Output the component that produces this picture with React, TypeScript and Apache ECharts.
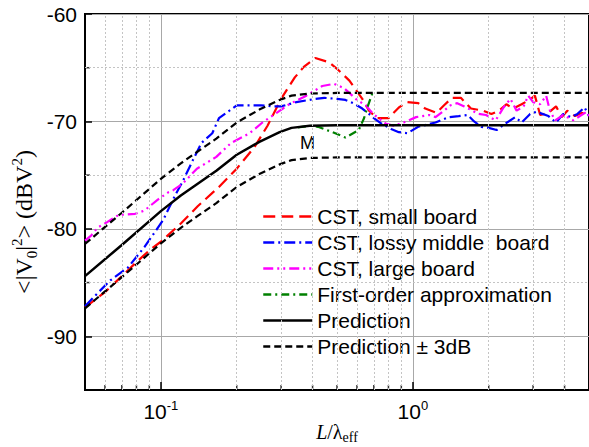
import React, { useEffect, useRef } from "react";
import * as echarts from "echarts";

const seriesNames = [
  "CST, small board",
  "CST, lossy middle  board",
  "CST, large board",
  "First-order approximation",
  "Prediction",
  "Prediction ± 3dB",
];

const smallBoard = [
  [0.05, -87.3], [0.06, -85.9], [0.07, -84.4], [0.08, -83.1], [0.09, -82.0], [0.1, -81.2],
  [0.12, -79.5], [0.14, -77.9], [0.17, -76.1], [0.2, -74.4], [0.235, -72.4], [0.265, -70.4],
  [0.3, -67.9], [0.34, -65.9], [0.37, -64.9], [0.41, -64.1], [0.465, -64.5], [0.5, -65.1],
  [0.56, -66.2], [0.63, -67.9], [0.67, -69.0], [0.72, -69.7], [0.8, -69.7], [0.88, -68.7],
  [0.95, -68.2], [1.05, -68.3], [1.12, -68.8], [1.24, -69.2], [1.33, -68.5], [1.43, -67.8],
  [1.55, -67.8], [1.7, -68.8], [1.9, -69.0], [2.05, -69.3], [2.2, -69.0], [2.35, -68.4],
  [2.5, -68.8], [2.7, -68.4], [2.9, -68.0], [3.05, -67.6], [3.2, -69.4], [3.45, -69.2],
  [3.7, -68.6], [3.9, -69.6], [4.1, -69.0], [4.4, -69.5], [4.7, -69.2], [5.0, -69.6],
];

const lossyMiddleBoard = [
  [0.05, -87.2], [0.056, -86.0], [0.063, -84.8], [0.074, -83.6], [0.086, -81.7], [0.096, -80.1],
  [0.102, -79.2], [0.108, -78.0], [0.115, -76.7], [0.122, -75.6], [0.134, -73.6], [0.145, -72.0],
  [0.16, -71.1], [0.17, -69.7], [0.187, -69.0], [0.2, -68.5], [0.25, -68.5], [0.28, -68.6],
  [0.3, -68.6], [0.345, -68.2], [0.41, -67.9], [0.445, -67.8], [0.5, -67.9], [0.54, -68.0],
  [0.58, -68.3], [0.63, -68.8], [0.67, -69.3], [0.7, -69.7], [0.75, -70.2], [0.82, -70.7],
  [0.88, -71.0], [0.95, -71.1], [1.05, -70.5], [1.23, -70.1], [1.39, -69.6], [1.52, -69.5],
  [1.65, -69.4], [1.75, -70.0], [1.87, -70.5], [2.0, -70.6], [2.15, -70.8], [2.33, -70.2],
  [2.55, -69.6], [2.7, -70.1], [2.92, -69.3], [3.1, -69.1], [3.45, -69.5], [3.7, -70.1],
  [3.95, -69.3], [4.25, -69.6], [4.5, -69.3], [4.8, -68.7], [5.0, -69.5],
];

const largeBoard = [
  [0.05, -81.1], [0.053, -80.6], [0.056, -79.9], [0.061, -79.4], [0.068, -78.7], [0.079, -78.6],
  [0.086, -78.3], [0.097, -77.3], [0.107, -76.6], [0.112, -76.4], [0.122, -75.8], [0.139, -74.4],
  [0.166, -73.3], [0.19, -72.0], [0.225, -71.1], [0.253, -70.1], [0.288, -69.2], [0.323, -68.4],
  [0.378, -67.6], [0.437, -66.7], [0.487, -66.5], [0.533, -66.9], [0.575, -67.6], [0.6, -68.0],
  [0.65, -68.5], [0.69, -69.2], [0.73, -69.7], [0.78, -70.2], [0.84, -70.4], [0.92, -70.1],
  [1.03, -69.6], [1.16, -69.4], [1.23, -69.6], [1.33, -69.0], [1.41, -68.5], [1.5, -68.3],
  [1.6, -68.6], [1.82, -69.3], [1.95, -69.4], [2.13, -69.9], [2.29, -68.7], [2.44, -67.9],
  [2.58, -69.0], [2.75, -68.6], [2.87, -67.6], [3.0, -68.2], [3.2, -68.4], [3.38, -67.6],
  [3.5, -69.0], [3.67, -69.9], [3.95, -69.4], [4.33, -69.9], [4.6, -69.5], [4.9, -69.1], [5.0, -69.5],
];

const firstOrder = [
  [0.35, -70.55], [0.4, -70.4], [0.42, -70.5], [0.48, -71.0], [0.54, -71.5], [0.61, -70.8],
  [0.64, -69.7], [0.66, -68.7], [0.69, -67.4], [0.7, -67.3],
];

const prediction = [
  [0.05, -84.4], [0.07, -81.5], [0.1, -78.35], [0.12, -76.9], [0.14, -75.8], [0.166, -74.6],
  [0.2, -73.1], [0.246, -71.9], [0.296, -71.0], [0.33, -70.6], [0.39, -70.4], [0.5, -70.35], [5.0, -70.35],
];

const predictionUpper = [
  [0.05, -81.4], [0.07, -78.5], [0.1, -75.35], [0.12, -73.9], [0.14, -72.8], [0.166, -71.6],
  [0.2, -70.1], [0.246, -68.9], [0.296, -68.0], [0.33, -67.6], [0.39, -67.4], [0.5, -67.35], [5.0, -67.35],
];

const predictionLower = [
  [0.05, -87.4], [0.07, -84.5], [0.1, -81.35], [0.12, -79.9], [0.14, -78.8], [0.166, -77.6],
  [0.2, -76.1], [0.246, -74.9], [0.296, -74.0], [0.33, -73.6], [0.39, -73.4], [0.5, -73.35], [5.0, -73.35],
];

const xMin = 0.05;
const xMax = 5;
const yMin = -95;
const yMax = -60;
const xMinorValues = [0.06, 0.07, 0.08, 0.09, 0.2, 0.3, 0.4, 0.5, 0.6, 0.7, 0.8, 0.9, 2, 3, 4];
const yMinorValues = [-85, -75, -65];
const xTickLabels: Record<string, string> = { "0.1": "{b|10}{s|-1}", "1": "{b|10}{s|0}" };

const SANS = "'Liberation Sans', Arial, sans-serif";
const SERIF = "'Liberation Serif', 'Times New Roman', serif";

export default function App() {
  const ref = useRef<HTMLDivElement>(null);

  useEffect(() => {
    if (!ref.current) return;
    const chart = echarts.init(ref.current, null, { renderer: "svg" });

    const curve = (name: string, data: number[][], color: string, dash: any, width: number) => ({
      name,
      type: "line",
      data,
      showSymbol: false,
      symbol: "none",
      z: 3,
      lineStyle: { color, width, type: dash },
      itemStyle: { color },
      silent: true,
    });

    const option: any = {
      animation: false,
      backgroundColor: "#fff",
      grid: {
        left: 85,
        top: 14,
        width: 506,
        height: 376,
        show: true,
        borderColor: "#000",
        borderWidth: 2,
        backgroundColor: "transparent",
      },
      legend: {
        data: seriesNames,
        orient: "vertical",
        left: 262,
        top: 206,
        padding: 0,
        itemWidth: 49,
        itemHeight: 14,
        itemGap: 5,
        selectedMode: false,
        itemStyle: { opacity: 0, borderWidth: 0 },
        lineStyle: { width: 2.5 },
        textStyle: { fontSize: 21, fontFamily: SANS, color: "#000", lineHeight: 21 },
      },
      xAxis: {
        type: "log",
        logBase: 10,
        min: xMin,
        max: xMax,
        axisLine: { show: true, lineStyle: { color: "#000", width: 2 } },
        axisTick: { show: true, inside: true, length: 8, lineStyle: { color: "#000", width: 1.5 } },
        axisLabel: {
          showMinLabel: false,
          showMaxLabel: false,
          margin: 9,
          color: "#000",
          formatter: (v: number) => {
            const key = String(Math.round(v * 1000) / 1000);
            return xTickLabels[key] || "";
          },
          rich: {
            b: { fontSize: 21, fontFamily: SANS, color: "#000", lineHeight: 24 },
            s: { fontSize: 13, fontFamily: SANS, color: "#000", lineHeight: 12, verticalAlign: "top" },
          },
        },
        splitLine: { show: true, lineStyle: { color: "#a8a8a8", width: 1 } },
      },
      yAxis: {
        type: "value",
        min: yMin,
        max: yMax,
        axisLine: { show: true, lineStyle: { color: "#000", width: 2 } },
        axisTick: { show: true, inside: true, length: 7, lineStyle: { color: "#000", width: 1.5 } },
        axisLabel: {
          showMinLabel: false,
          margin: 8,
          color: "#000",
          fontSize: 21,
          fontFamily: SANS,
          formatter: (v: number) => (v % 10 === 0 ? String(v) : ""),
        },
        splitLine: { show: true, lineStyle: { color: "#a8a8a8", width: 1 } },
      },
      series: [
        {
          name: "minorTicksX",
          type: "scatter",
          data: xMinorValues.map((v) => [v, yMin]),
          symbol: "rect",
          symbolSize: [1.5, 5],
          symbolOffset: [0, -2.5],
          itemStyle: { color: "#000" },
          silent: true,
          z: 4,
          markLine: {
            silent: true,
            symbol: ["none", "none"],
            label: { show: false },
            lineStyle: { color: "#c4c4c4", width: 1, type: [2, 2] },
            emphasis: { disabled: true },
            data: [
              ...xMinorValues.map((v) => ({ xAxis: v })),
              ...yMinorValues.map((v) => ({ yAxis: v })),
            ],
          },
        },
        {
          name: "minorTicksY",
          type: "scatter",
          data: yMinorValues.map((v) => [xMin, v]),
          symbol: "rect",
          symbolSize: [5, 1.5],
          symbolOffset: [2.5, 0],
          itemStyle: { color: "#000" },
          silent: true,
          z: 4,
        },
        curve(seriesNames[0], smallBoard, "#ff0000", [12, 6], 2.2),
        curve(seriesNames[1], lossyMiddleBoard, "#0000ff", [11, 4, 2, 4], 2.2),
        curve(seriesNames[2], largeBoard, "#ff00ff", [10, 4, 2, 4, 2, 4], 2.2),
        curve(seriesNames[3], firstOrder, "#008000", [8, 4, 2, 4], 2.2),
        curve(seriesNames[4], prediction, "#000000", "solid", 2.5),
        curve(seriesNames[5], predictionUpper, "#000000", [7, 4], 2.2),
        curve(seriesNames[5], predictionLower, "#000000", [7, 4], 2.2),
      ],
      graphic: [
        {
          type: "text",
          x: 300,
          y: 143,
          silent: true,
          style: { text: "M", fontSize: 18, fontFamily: SANS, fill: "#000", align: "left", verticalAlign: "middle" },
        },
        {
          type: "text",
          x: 24,
          y: 222,
          rotation: Math.PI / 2,
          silent: true,
          style: {
            text: "{n|<|V}{sub|0}{n||}{sup|2}{n|> (dBV}{sup|2}{n|)}",
            align: "center",
            verticalAlign: "middle",
            fill: "#000",
            rich: {
              n: { fontSize: 24, fontFamily: SERIF, fill: "#000", lineHeight: 30 },
              sub: { fontSize: 15, fontFamily: SERIF, fill: "#000", lineHeight: 14, verticalAlign: "bottom" },
              sup: { fontSize: 15, fontFamily: SERIF, fill: "#000", lineHeight: 14, verticalAlign: "top" },
            },
          },
        },
        {
          type: "text",
          x: 337,
          y: 432,
          silent: true,
          style: {
            text: "{i|L}{n|/λ}{sub|eff}",
            align: "center",
            verticalAlign: "middle",
            fill: "#000",
            rich: {
              i: { fontSize: 20, fontFamily: SERIF, fontStyle: "italic", fill: "#000", lineHeight: 24 },
              n: { fontSize: 20, fontFamily: SERIF, fill: "#000", lineHeight: 24 },
              sub: { fontSize: 14, fontFamily: SERIF, fill: "#000", lineHeight: 12, verticalAlign: "bottom" },
            },
          },
        },
      ],
    };

    chart.setOption(option);
    return () => chart.dispose();
  }, []);

  return <div ref={ref} style={{ width: 589, height: 447, position: "absolute", left: 0, top: 0 }} />;
}
